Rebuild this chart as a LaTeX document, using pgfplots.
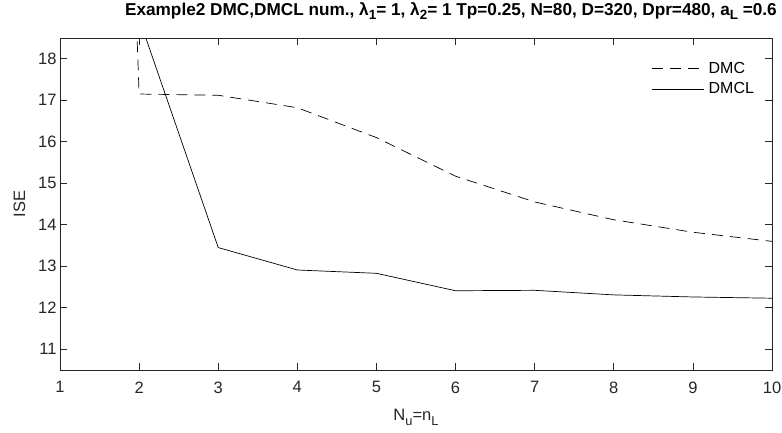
\documentclass[border=0pt]{standalone}
\usepackage{fontspec}
\setmainfont{Liberation Sans}
\usepackage{pgfplots}
\pgfplotsset{compat=1.18}
\newcommand\sub[1]{\raisebox{-0.55ex}{\scalebox{0.78}{#1}}}

\begin{document}
\begin{tikzpicture}
\begin{axis}[
  scale only axis,
  width=712pt,
  height=332pt,
  xmin=1, xmax=10,
  ymin=10.5, ymax=18.5,
  xtick={1,2,...,10},
  ytick={11,12,...,18},
  tick align=inside,
  major tick length=7pt,
  axis line style={draw=black!85, line width=0.6pt},
  every tick/.style={draw=black!85, line width=0.6pt},
  /pgf/number format/assume math mode=true,
  tick label style={font=\fontsize{16.5}{16.5}\selectfont, text=black!85},
  xticklabel style={yshift=-8pt},
  xlabel={N\sub{u}=n\sub{L}},
  ylabel={ISE},
  label style={font=\fontsize{16.5}{16.5}\selectfont, text=black!85},
  xlabel style={yshift=-9pt},
  ylabel style={yshift=6pt},
  title={Example2 DMC,DMCL num., λ\sub{1}= 1, λ\sub{2}= 1 Tp=0.25, N=80, D=320, Dpr=480, a\sub{L} =0.6},
  title style={font=\bfseries\fontsize{17.2}{17.2}\selectfont, at={(1,1)}, anchor=base east,
    xshift=5pt, yshift=17pt, inner xsep=0pt},
  legend style={draw=none, fill=none, at={(0.826,0.94)}, anchor=north west,
    font=\fontsize{16}{16}\selectfont, row sep=4pt},
  legend cell align=left,
  legend image code/.code={\draw[#1] (0pt,0pt) -- (52pt,0pt);},
]
\addplot[black, line width=0.7pt, dash pattern=on 11pt off 7pt] coordinates {
  (1,70) (2,17.15) (3,17.12) (4,16.82) (5,16.1) (6,15.17)
  (7,14.55) (8,14.12) (9,13.82) (10,13.6)};
\addplot[black, line width=0.7pt] coordinates {
  (1,70) (2,18.97) (3,13.45) (4,12.91) (5,12.83) (6,12.41)
  (7,12.42) (8,12.31) (9,12.26) (10,12.23)};
\legend{\,DMC,\,DMCL}
\coordinate (ll) at (rel axis cs:0,0);
\coordinate (ur) at (rel axis cs:1,1);
\end{axis}
\pgfresetboundingbox
\path[use as bounding box] ([shift={(-60pt,-62pt)}]ll) rectangle ([shift={(10pt,38pt)}]ur);
\end{tikzpicture}
\end{document}
